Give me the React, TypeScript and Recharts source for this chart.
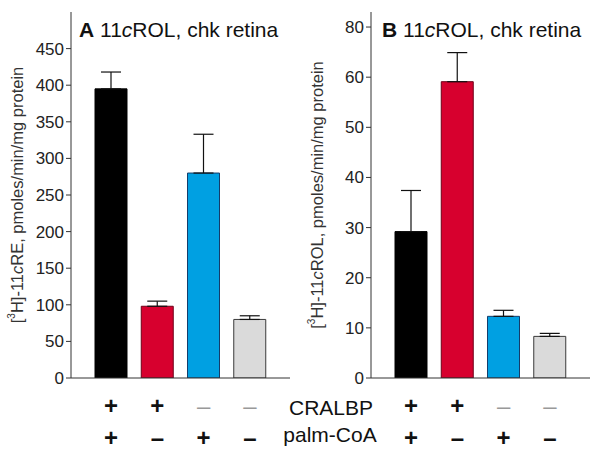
import React from 'react';
import { BarChart, Bar, Cell, XAxis, YAxis, ErrorBar, Label } from 'recharts';

const FONT = '"Liberation Sans", Arial, Helvetica, sans-serif';

// conditions (one bar per lane)
const categories = ['c1', 'c2', 'c3', 'c4'];
const cralbpSigns = ['+', '+', '–', '–'];
const palmCoASigns = ['+', '–', '+', '–'];

// panel A: 11cRE formed
const valuesA = [395, 98, 280, 80];
const errorsA = [23, 7, 53, 5];
const ticksA = [0, 50, 100, 150, 200, 250, 300, 350, 400, 450];

// panel B: 11cROL formed
const valuesB = [29.2, 59.1, 12.3, 8.3];
const errorsB = [8.2, 5.8, 1.2, 0.6];
const ticksB = [0, 10, 20, 30, 40, 50, 60, 70];
const tickLabelsB = ['0', '10', '20', '30', '40', '50', '60', '80'];

const barFills = ['#000000', '#d7002e', '#00a0e2', '#dadada'];
const barStrokes = ['#000000', '#6e0018', '#143d6b', '#3a3a3a'];

const dataA = categories.map((c, i) => ({ cat: c, value: valuesA[i], err: [0, errorsA[i]] }));
const dataB = categories.map((c, i) => ({ cat: c, value: valuesB[i], err: [0, errorsB[i]] }));

const SignTick = (props: any) => {
  const { x, y, payload } = props;
  const i = payload.index;
  const s1 = cralbpSigns[i];
  const s2 = palmCoASigns[i];
  return (
    <g fontFamily={FONT}>
      <text x={x} y={y + 25} textAnchor="middle" dominantBaseline="central" fontSize={24}
        fontWeight={s1 === '+' ? 'bold' : 'normal'} fill={s1 === '+' ? '#111' : '#999'}>{s1}</text>
      <text x={x} y={y + 57} textAnchor="middle" dominantBaseline="central" fontSize={24}
        fontWeight="bold" fill="#111">{s2}</text>
    </g>
  );
};

const yLabel = (product: string, dx: number) => (props: any) => {
  const { viewBox } = props;
  const cx = viewBox.x + dx;
  const cy = viewBox.y + viewBox.height / 2;
  return (
    <text x={cx} y={cy} transform={`rotate(-90 ${cx} ${cy})`} textAnchor="middle"
      dominantBaseline="central" fontSize={16.5} fontFamily={FONT} fill="#333">
      <tspan>[</tspan>
      <tspan dy={-6} fontSize={10}>3</tspan>
      <tspan dy={6}>H]-11</tspan>
      <tspan fontStyle="italic">c</tspan>
      <tspan>{product}, pmoles/min/mg protein</tspan>
    </text>
  );
};

const Panel = ({ data, domain, ticks, tickFmt, product, labelDx }: any) => (
  <BarChart width={300} height={455} data={data} margin={{ top: 12, right: 10, bottom: 0, left: 0 }}>
    <XAxis dataKey="cat" height={77} tick={<SignTick />} tickLine={false} tickSize={0}
      axisLine={{ stroke: '#333' }} padding={{ left: 17, right: 17 }} interval={0} />
    <XAxis xAxisId="top" dataKey="cat" orientation="top" height={0} tick={false} tickLine={false}
      axisLine={{ stroke: '#333' }} />
    <YAxis width={71} domain={domain} ticks={ticks} tickFormatter={tickFmt} interval={0}
      allowDataOverflow tickSize={5} tickMargin={2} stroke="#333"
      tick={{ fill: '#222', fontSize: 17, fontFamily: FONT }}>
      <Label content={yLabel(product, 17)} />
    </YAxis>
    <YAxis yAxisId="right" orientation="right" width={0} domain={domain} tick={false} tickLine={false}
      axisLine={{ stroke: '#333' }} />
    <Bar dataKey="value" barSize={32} isAnimationActive={false}>
      {data.map((d: any, i: number) => (
        <Cell key={d.cat} fill={barFills[i]} stroke={barStrokes[i]} strokeWidth={1} />
      ))}
      <ErrorBar dataKey="err" width={10} stroke="#111" strokeWidth={1.2} direction="y" />
    </Bar>
  </BarChart>
);

const Title = ({ x, letter }: { x: number; letter: string }) => (
  <text x={x} y={37} fontSize={21} fontFamily={FONT} fill="#111">
    <tspan fontWeight="bold">{letter}</tspan>
    <tspan> 11</tspan>
    <tspan fontStyle="italic">c</tspan>
    <tspan>ROL, chk retina</tspan>
  </text>
);

export default function App() {
  return (
    <div style={{ position: 'absolute', left: 0, top: 0, width: 600, height: 455, background: '#fff' }}>
      <div style={{ position: 'absolute', left: 0, top: 0 }}>
        <Panel data={dataA} domain={[0, 500]} ticks={ticksA} product="RE" />
      </div>
      <div style={{ position: 'absolute', left: 300, top: 0 }}>
        <Panel data={dataB} domain={[0, 73]} ticks={ticksB}
          tickFmt={(v: number) => tickLabelsB[ticksB.indexOf(v)]} product="ROL" />
      </div>
      <svg width={600} height={455} style={{ position: 'absolute', left: 0, top: 0, pointerEvents: 'none' }}>
        <Title x={79} letter="A" />
        <Title x={382} letter="B" />
        <text x={331} y={415} textAnchor="middle" fontSize={21} fontFamily={FONT} fill="#111">CRALBP</text>
        <text x={330} y={442} textAnchor="middle" fontSize={21} fontFamily={FONT} fill="#111">palm-CoA</text>
      </svg>
    </div>
  );
}
